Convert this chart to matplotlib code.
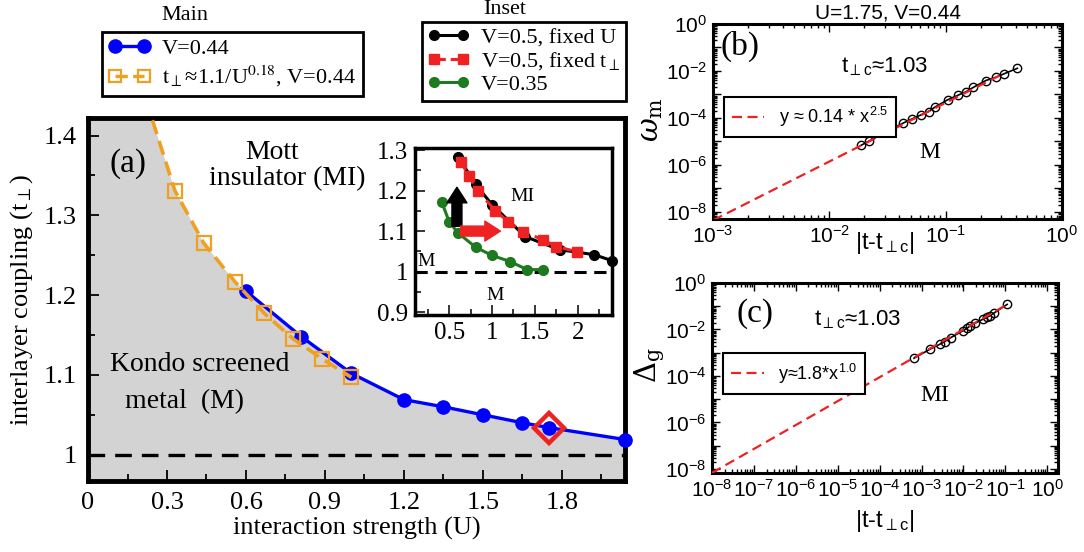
import numpy as np
import matplotlib
matplotlib.use("Agg")
import matplotlib.pyplot as plt
from matplotlib.ticker import MultipleLocator, FuncFormatter, LogLocator, NullFormatter
from matplotlib.font_manager import FontProperties
from matplotlib.lines import Line2D

SERIF = 'Liberation Serif'
SANS = 'Liberation Sans'

plt.rcParams['font.family'] = SERIF
plt.rcParams['mathtext.fontset'] = 'custom'
plt.rcParams['mathtext.rm'] = 'Liberation Sans'
plt.rcParams['mathtext.it'] = 'Liberation Sans:italic'
plt.rcParams['mathtext.bf'] = 'Liberation Sans:bold'

# ---- DATA

# (a) main: phase boundary, V=0.44
main_u = [0.6, 0.81, 1.0, 1.2, 1.35, 1.5, 1.65, 1.75, 2.04]
main_t = [1.205, 1.148, 1.102, 1.069, 1.060, 1.050, 1.040, 1.034, 1.019]

# (a) main: t_perp ~ 1.1/U^0.18 (open squares)
fit_u = [0.22, 0.33, 0.44, 0.56, 0.67, 0.78, 0.89, 1.0]
fit_t = [1.445, 1.331, 1.265, 1.216, 1.177, 1.145, 1.120, 1.097]

# (a) marked point used in (b), (c)
crit_u = [1.75]
crit_t = [1.034]

# (a) inset
fixU_u = [0.6, 0.81, 1.0, 1.39, 1.79, 2.19, 2.4]
fixU_t = [1.284, 1.215, 1.165, 1.086, 1.054, 1.042, 1.027]
fixT_u = [0.64, 0.73, 0.83, 1.04, 1.19, 1.36, 1.59, 1.75, 1.99]
fixT_t = [1.270, 1.235, 1.200, 1.150, 1.123, 1.099, 1.079, 1.062, 1.049]
v035_u = [0.41, 0.5, 0.6, 0.81, 1.0, 1.21, 1.41, 1.59]
v035_t = [1.173, 1.123, 1.096, 1.060, 1.040, 1.025, 1.005, 1.005]

# (b) omega_m vs |t - t_c|
b_x = [0.0188, 0.0218, 0.0329, 0.0427, 0.0514, 0.0614, 0.0713, 0.0809,
       0.1038, 0.1265, 0.149, 0.173, 0.221, 0.270, 0.318, 0.413]
b_y = [6.9e-6, 1.02e-5, 3.0e-5, 5.9e-5, 9.1e-5, 1.35e-4, 1.87e-4, 2.9e-4,
       5.9e-4, 9.1e-4, 1.29e-3, 2.0e-3, 3.9e-3, 5.4e-3, 7.6e-3, 1.29e-2]
b_fit_x = [1e-3, 0.30]
b_fit_y = [4.4e-9, 6.9e-3]

# (c) Delta_g vs |t - t_c|
c_x = [6.6e-4, 1.58e-3, 2.7e-3, 3.55e-3, 5.0e-3, 9.8e-3, 1.2e-2, 1.44e-2,
       1.9e-2, 2.95e-2, 3.55e-2, 4.3e-2, 5.25e-2, 0.11]
c_y = [5.8e-4, 1.41e-3, 2.3e-3, 3.0e-3, 4.5e-3, 8.9e-3, 1.12e-2, 1.41e-2,
       1.86e-2, 2.8e-2, 3.3e-2, 3.9e-2, 5.0e-2, 0.12]
c_fit_x = [1e-8, 0.12]
c_fit_y = [6.8e-9, 0.13]

BLUE = '#0000ff'
ORANGE = '#f0a020'
RED = '#ee2222'
GREEN = '#1e7a1e'

fig = plt.figure(figsize=(10.84, 5.52), dpi=100)

# ---- PANEL (a)

ax = fig.add_axes([0.0812, 0.1286, 0.4954, 0.6576])
ax.set_xlim(0, 2.04)
ax.set_ylim(0.967, 1.422)

bnd_u = [0.0] + fit_u[:4] + main_u
bnd_t = [1.6] + fit_t[:4] + main_t
ax.fill_between(bnd_u, 0.9, bnd_t, color='#d3d3d3', lw=0, zorder=0)
ax.axhline(1.0, color='k', lw=2.4, dashes=(5, 3), zorder=2)
ax.plot(main_u, main_t, '-o', color=BLUE, lw=2.4, ms=9.5, clip_on=False, zorder=4)
ax.plot(fit_u, fit_t, '--s', color=ORANGE, mfc='none', mew=1.6, ms=9.5, lw=2.6,
        dashes=(4, 2), zorder=5)
ax.plot(crit_u, crit_t, 'D', mfc='none', mec=RED, mew=3.2, ms=15, zorder=6)

ax.xaxis.set_major_locator(MultipleLocator(0.3))
ax.xaxis.set_minor_locator(MultipleLocator(0.15))
ax.yaxis.set_major_locator(MultipleLocator(0.1))
ax.yaxis.set_minor_locator(MultipleLocator(0.05))
ax.xaxis.set_major_formatter(FuncFormatter(lambda v, p: '%g' % round(v, 2)))
ax.yaxis.set_major_formatter(FuncFormatter(lambda v, p: '%g' % round(v, 2)))
ax.tick_params(which='both', direction='in', width=1.3, labelsize=19, pad=8,
               labelfontfamily=SERIF)
ax.tick_params(which='major', length=8)
ax.tick_params(which='minor', length=5)
for s in ax.spines.values():
    s.set_linewidth(3.5)

ax.set_xlabel('interaction strength (U)', family=SERIF, fontsize=19, labelpad=2)
ax.set_ylabel(r'interlayer coupling (t$_{\perp}$)', family=SERIF, fontsize=19,
              labelpad=6, math_fontfamily='stix')

ax.text(0.152, 1.365, '(a)', family=SERIF, fontsize=24, ha='center', va='center')
ax.text(0.70, 1.379, 'Mott', family=SERIF, fontsize=20, ha='center', va='center')
ax.text(0.757, 1.346, 'insulator (MI)', family=SERIF, fontsize=20, ha='center', va='center')
ax.text(0.426, 1.1125, 'Kondo screened', family=SERIF, fontsize=20, ha='center', va='center')
ax.text(0.365, 1.066, 'metal  (M)', family=SERIF, fontsize=20, ha='center', va='center')

# ---- INSET

axi = fig.add_axes([0.3828, 0.4293, 0.1818, 0.3026])
axi.set_xlim(0.1, 2.4)
axi.set_ylim(0.893, 1.305)
axi.axhline(1.0, color='k', lw=2.2, dashes=(4, 2.5))
axi.plot(fixU_u, fixU_t, '-o', color='k', lw=2.2, ms=7, clip_on=False, zorder=3)
axi.plot(fixT_u, fixT_t, '--s', color=RED, lw=2.2, ms=7, dashes=(3, 2), zorder=4)
axi.plot(v035_u, v035_t, '-o', color=GREEN, lw=2.2, ms=7, zorder=3)
axi.annotate('', xy=(0.59, 1.215), xytext=(0.59, 1.105),
             arrowprops=dict(arrowstyle='simple,head_length=0.7,head_width=0.9,tail_width=0.45',
                             color='k', mutation_scale=16), zorder=5)
axi.annotate('', xy=(1.13, 1.10), xytext=(0.60, 1.10),
             arrowprops=dict(arrowstyle='simple,head_length=0.7,head_width=0.9,tail_width=0.45',
                             color=RED, mutation_scale=16), zorder=5)
axi.text(1.35, 1.185, 'MI', family=SERIF, fontsize=14, ha='center', va='center')
axi.text(0.23, 1.025, 'M', family=SERIF, fontsize=14, ha='center', va='center')
axi.text(1.04, 0.94, 'M', family=SERIF, fontsize=14, ha='center', va='center')

axi.xaxis.set_major_locator(MultipleLocator(0.5))
axi.xaxis.set_minor_locator(MultipleLocator(0.25))
axi.yaxis.set_major_locator(MultipleLocator(0.1))
axi.yaxis.set_minor_locator(MultipleLocator(0.05))
axi.xaxis.set_major_formatter(FuncFormatter(lambda v, p: '%g' % round(v, 2)))
axi.yaxis.set_major_formatter(FuncFormatter(lambda v, p: '%g' % round(v, 2)))
axi.tick_params(which='both', direction='in', width=1.1, labelsize=18, pad=5,
                labelfontfamily=SERIF)
axi.tick_params(which='major', length=7)
axi.tick_params(which='minor', length=4)
for s in axi.spines.values():
    s.set_linewidth(2.5)

# ---- LEGENDS OF (a)

leg_font = FontProperties(family=SERIF, size=16, math_fontfamily='stix')
main_handles = [
    Line2D([], [], color=BLUE, marker='o', lw=2.4, ms=9.5),
    Line2D([], [], color=ORANGE, marker='s', mfc='none', mew=1.6, ms=9, lw=2.4, ls='--'),
]
main_labels = ['V=0.44', r'$\mathrm{t}_{\perp}$≈1.1/U$^{0.18}$, V=0.44']
leg1 = fig.legend(main_handles, main_labels, loc='upper left',
                  bbox_to_anchor=(102 / 1084, 1 - 32 / 552), prop=leg_font,
                  numpoints=2, handlelength=1.9, labelspacing=0.2, borderpad=0.3,
                  handletextpad=0.5, fancybox=False, framealpha=1, edgecolor='k',
                  borderaxespad=0)
leg1.get_frame().set_linewidth(2)
fig.text(185 / 1084, 1 - 16 / 552, 'Main', family=SERIF, fontsize=16,
         ha='center', va='center')

inset_handles = [
    Line2D([], [], color='k', marker='o', lw=2.2, ms=7),
    Line2D([], [], color=RED, marker='s', lw=2.2, ms=7, ls='--'),
    Line2D([], [], color=GREEN, marker='o', lw=2.2, ms=7),
]
inset_labels = ['V=0.5, fixed U', r'V=0.5, fixed t$_{\perp}$', 'V=0.35']
leg2 = fig.legend(inset_handles, inset_labels, loc='upper left',
                  bbox_to_anchor=(422 / 1084, 1 - 22 / 552), prop=leg_font,
                  numpoints=2, handlelength=1.9, labelspacing=0.1, borderpad=0.25,
                  handletextpad=0.5, fancybox=False, framealpha=1, edgecolor='k',
                  borderaxespad=0)
leg2.get_frame().set_linewidth(2)
fig.text(505 / 1084, 1 - 9 / 552, 'Inset', family=SERIF, fontsize=16,
         ha='center', va='center')


# ---- PANELS (b) AND (c)

def log_axes(a, xlim, ylim):
    a.set_xscale('log')
    a.set_yscale('log')
    a.set_xlim(*xlim)
    a.set_ylim(*ylim)
    a.xaxis.set_major_locator(LogLocator(base=10, numticks=20))
    a.yaxis.set_major_locator(LogLocator(base=10, numticks=20))
    a.xaxis.set_minor_locator(LogLocator(base=10, subs=np.arange(2, 10), numticks=20))
    a.yaxis.set_minor_locator(LogLocator(base=10, subs=np.arange(2, 10), numticks=20))
    a.xaxis.set_minor_formatter(NullFormatter())
    a.yaxis.set_minor_formatter(NullFormatter())

    def fmt(v, p, even):
        e = int(round(np.log10(v)))
        if even and e % 2:
            return ''
        return r'$\mathdefault{10^{%d}}$' % e
    a.xaxis.set_major_formatter(FuncFormatter(lambda v, p: fmt(v, p, False)))
    a.yaxis.set_major_formatter(FuncFormatter(lambda v, p: fmt(v, p, True)))
    a.tick_params(which='both', direction='in', top=True, right=True, width=1,
                  labelsize=15, pad=4, labelfontfamily=SANS)
    a.tick_params(which='major', length=6)
    a.tick_params(which='minor', length=3)
    for s in a.spines.values():
        s.set_linewidth(2.2)


axb = fig.add_axes([0.6578, 0.6033, 0.3219, 0.3533])
log_axes(axb, (1e-3, 1.0), (5e-9, 1.0))
axb.plot(b_x, b_y, '-o', color='k', mfc='none', ms=6, mew=1, lw=1.2, zorder=3)
axb.plot(b_fit_x, b_fit_y, color=RED, lw=1.6, dashes=(4.5, 2.5), zorder=4,
         label=r'y ≈ 0.14 * x$^{2.5}$')
lb = axb.legend(loc='upper left', bbox_to_anchor=(0.03, 0.625), borderaxespad=0,
                prop=FontProperties(family=SANS, size=13), handlelength=1.8,
                fancybox=False, framealpha=1, edgecolor='k', borderpad=0.45)
lb.get_frame().set_linewidth(1.5)
axb.set_title('U=1.75, V=0.44', family=SANS, fontsize=15, pad=4)
axb.text(0.077, 0.885, '(b)', family=SERIF, fontsize=24, ha='center', va='center',
         transform=axb.transAxes)
axb.text(0.493, 0.78, r't$_{\perp \mathrm{c}}$≈1.03', family=SANS, fontsize=16,
         ha='center', va='center', transform=axb.transAxes)
axb.text(0.622, 0.34, 'M', family=SERIF, fontsize=17, ha='center', va='center',
         transform=axb.transAxes)
axb.text(0.493, -0.125, r'|t-t$_{\perp \mathrm{c}}$|', family=SANS, fontsize=17,
         ha='center', va='center', transform=axb.transAxes)
axb.text(-0.175, 0.51, r'$\omega_{\mathrm{m}}$', fontsize=21, ha='center', va='center',
         rotation=90, transform=axb.transAxes, math_fontfamily='dejavuserif')

axc = fig.add_axes([0.6568, 0.1431, 0.3192, 0.3442])
log_axes(axc, (1e-8, 1.8), (6.7e-9, 1.0))
axc.plot(c_x, c_y, '-o', color='k', mfc='none', ms=6, mew=1, lw=1.2, zorder=3)
axc.plot(c_fit_x, c_fit_y, color=RED, lw=1.6, dashes=(4.5, 2.5), zorder=4,
         label=r'y≈1.8*x$^{1.0}$')
lc = axc.legend(loc='upper left', bbox_to_anchor=(0.032, 0.63), borderaxespad=0,
                prop=FontProperties(family=SANS, size=13), handlelength=1.8,
                fancybox=False, framealpha=1, edgecolor='k', borderpad=0.45)
lc.get_frame().set_linewidth(1.5)
axc.text(0.124, 0.84, '(c)', family=SERIF, fontsize=24, ha='center', va='center',
         transform=axc.transAxes)
axc.text(0.42, 0.805, r't$_{\perp \mathrm{c}}$≈1.03', family=SANS, fontsize=16,
         ha='center', va='center', transform=axc.transAxes)
axc.text(0.645, 0.41, 'MI', family=SERIF, fontsize=17, ha='center', va='center',
         transform=axc.transAxes)
axc.text(0.5, -0.25, r'|t-t$_{\perp \mathrm{c}}$|', family=SANS, fontsize=17,
         ha='center', va='center', transform=axc.transAxes)
axc.text(-0.18, 0.57, r'$\Delta_{\mathrm{g}}$', fontsize=21, ha='center', va='center',
         rotation=90, transform=axc.transAxes, math_fontfamily='dejavuserif')

fig.savefig('out.png', dpi=100)
